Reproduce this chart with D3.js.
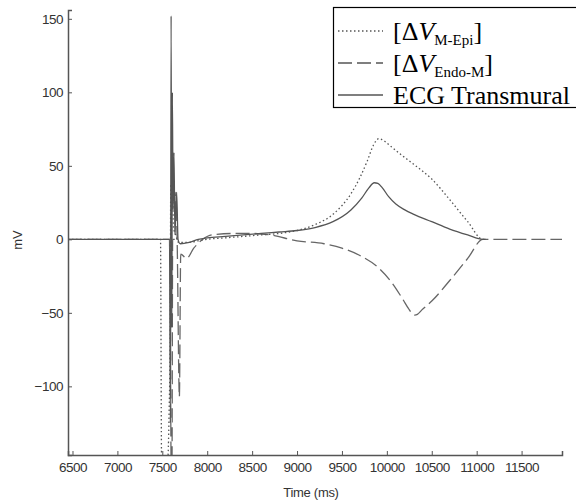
<!DOCTYPE html>
<meta http-equiv="Content-type" content="text/html; charset=UTF-8"/>
<style>body { margin: 0; }</style>
<svg width="576" height="502" font-family="'Liberation Sans', Arial"></svg>
<script src="https://d3js.org/d3.v7.min.js"></script>
<script>
// [time (ms), mV]
var mEpi = [[6450,0],[7480,0],[7492,-150],[7560,-150],[7575,-120],[7588,-60],[7594,38],[7614,38],[7624,8],[7650,3],
  [7680,-2],[7800,-2],[7900,-1],[8000,0],[8200,1],[8400,2],[8600,3],[8800,4],[9000,6],[9200,10],[9400,17],
  [9600,31],[9700,42],[9780,53],[9850,64],[9880,67],[9910,68.5],[9940,68],[9980,66.5],[10050,63],[10150,58],
  [10300,51],[10500,41],[10700,27],[10900,12],[11070,0],[11100,0]];
var endoM = [[6450,0],[7585,0],[7598,-150],[7608,-150],[7615,0],[7640,0],[7650,32],[7665,0],[7690,-107],
  [7705,-10],[7770,-13],[7850,-6],[7950,0],[8050,3],[8300,4],[8500,4],[8700,3],[9000,-1],[9300,-3],[9500,-6],
  [9700,-11],[9900,-19],[10050,-29],[10180,-41],[10240,-47],[10280,-50.5],[10310,-51.5],[10340,-51],[10390,-48],
  [10500,-42],[10700,-28],[10900,-13],[11070,0],[11950,0]];
var ecg = [[6450,0],[7580,0],[7590,-125],[7598,152],[7606,-60],[7612,100],[7620,20],[7630,59],[7640,5],
  [7660,32],[7675,0],[7700,-3],[7800,-2],[7900,0],[8000,1],[8200,2],[8400,3],[8600,4],[8800,5],[9000,6],
  [9200,8],[9400,12],[9600,20],[9720,28],[9800,35],[9860,38.5],[9900,38],[9950,35],[10020,29],[10100,24],
  [10200,20],[10300,17],[10500,12],[10700,7],[10900,3],[11070,0],[11100,0]];
var xTicks = [6500,7000,7500,8000,8500,9000,9500,10000,10500,11000,11500];
var yTicks = [-100,-50,0,50,100,150];
var legendNames = [["M-Epi"], ["Endo-M"], "ECG Transmural"];

var svg = d3.select("svg"),
    pLeft = 68, pRight = 562, pTop = 10, pBottom = 455;

var x = d3.scaleLinear().domain([6450, 11950]).range([pLeft, pRight]);
var y = d3.scaleLinear().domain([-146.7, 156]).range([pBottom, pTop]);

svg.append("clipPath").attr("id", "plot")
  .append("rect").attr("x", pLeft).attr("y", pTop).attr("width", pRight - pLeft).attr("height", pBottom - pTop);

var line = d3.line()
    .curve(d3.curveMonotoneX)
    .x(function(d) { return x(d[0]); })
    .y(function(d) { return y(d[1]); });

var g = svg.append("g").attr("clip-path", "url(#plot)");

g.append("path").datum(endoM)
    .attr("fill", "none").attr("stroke", "#666").attr("stroke-width", 1.3)
    .attr("stroke-dasharray", "14,5").attr("d", line);
g.append("path").datum(mEpi)
    .attr("fill", "none").attr("stroke", "#555").attr("stroke-width", 1.3)
    .attr("stroke-dasharray", "1.5,2.5").attr("d", line);
g.append("path").datum(ecg)
    .attr("fill", "none").attr("stroke", "#555").attr("stroke-width", 1.3)
    .attr("d", line);

var xAxis = svg.append("g")
    .attr("transform", "translate(0," + pBottom + ")")
    .call(d3.axisBottom(x).tickValues(xTicks).tickSize(-4).tickPadding(7).tickFormat(d3.format("d")));
var yAxis = svg.append("g")
    .attr("transform", "translate(" + pLeft + ",0)")
    .call(d3.axisLeft(y).tickValues(yTicks).tickSize(-4).tickPadding(5));

[xAxis, yAxis].forEach(function(a) {
  a.attr("font-family", null);
  a.select(".domain").attr("stroke", "#555").attr("stroke-width", 1.5);
  a.selectAll(".tick line").attr("stroke", "#555");
  a.selectAll(".tick text").attr("fill", "#333")
      .style("font-size", "13.5px").style("letter-spacing", "-0.5px");
});

svg.append("text")
    .attr("x", 311).attr("y", 497)
    .attr("text-anchor", "middle")
    .attr("fill", "#333")
    .style("font-size", "13px")
    .style("letter-spacing", "-0.3px")
    .text("Time (ms)");

svg.append("text")
    .attr("transform", "translate(22,240) rotate(-90)")
    .attr("text-anchor", "middle")
    .attr("fill", "#333")
    .style("font-size", "13px")
    .text("mV");

// legend
var lg = svg.append("g").attr("font-family", "'Liberation Serif', 'Times New Roman'");
lg.append("rect")
    .attr("x", 333.5).attr("y", 7.5).attr("width", 260).attr("height", 100)
    .attr("fill", "#fff").attr("stroke", "#000").attr("stroke-width", 1.2);

var dashes = ["1.5,2.5", "14,5", null];
var rowY = [31, 63, 95];
legendNames.forEach(function(name, i) {
  lg.append("line")
      .attr("x1", 338).attr("x2", 383)
      .attr("y1", rowY[i]).attr("y2", rowY[i])
      .attr("stroke", "#555").attr("stroke-width", 1.3)
      .attr("stroke-dasharray", dashes[i]);
  var t = lg.append("text")
      .attr("x", 393).attr("y", rowY[i] + 9)
      .style("font-size", "26px")
      .attr("fill", "#000");
  if (typeof name === "string") {
    t.text(name);
  } else {
    t.append("tspan").text("[\u0394");
    t.append("tspan").style("font-style", "italic").text("V");
    t.append("tspan").attr("dy", 5).style("font-size", "15px").text(name[0]);
    t.append("tspan").attr("dy", -5).text("]");
  }
});
</script>
